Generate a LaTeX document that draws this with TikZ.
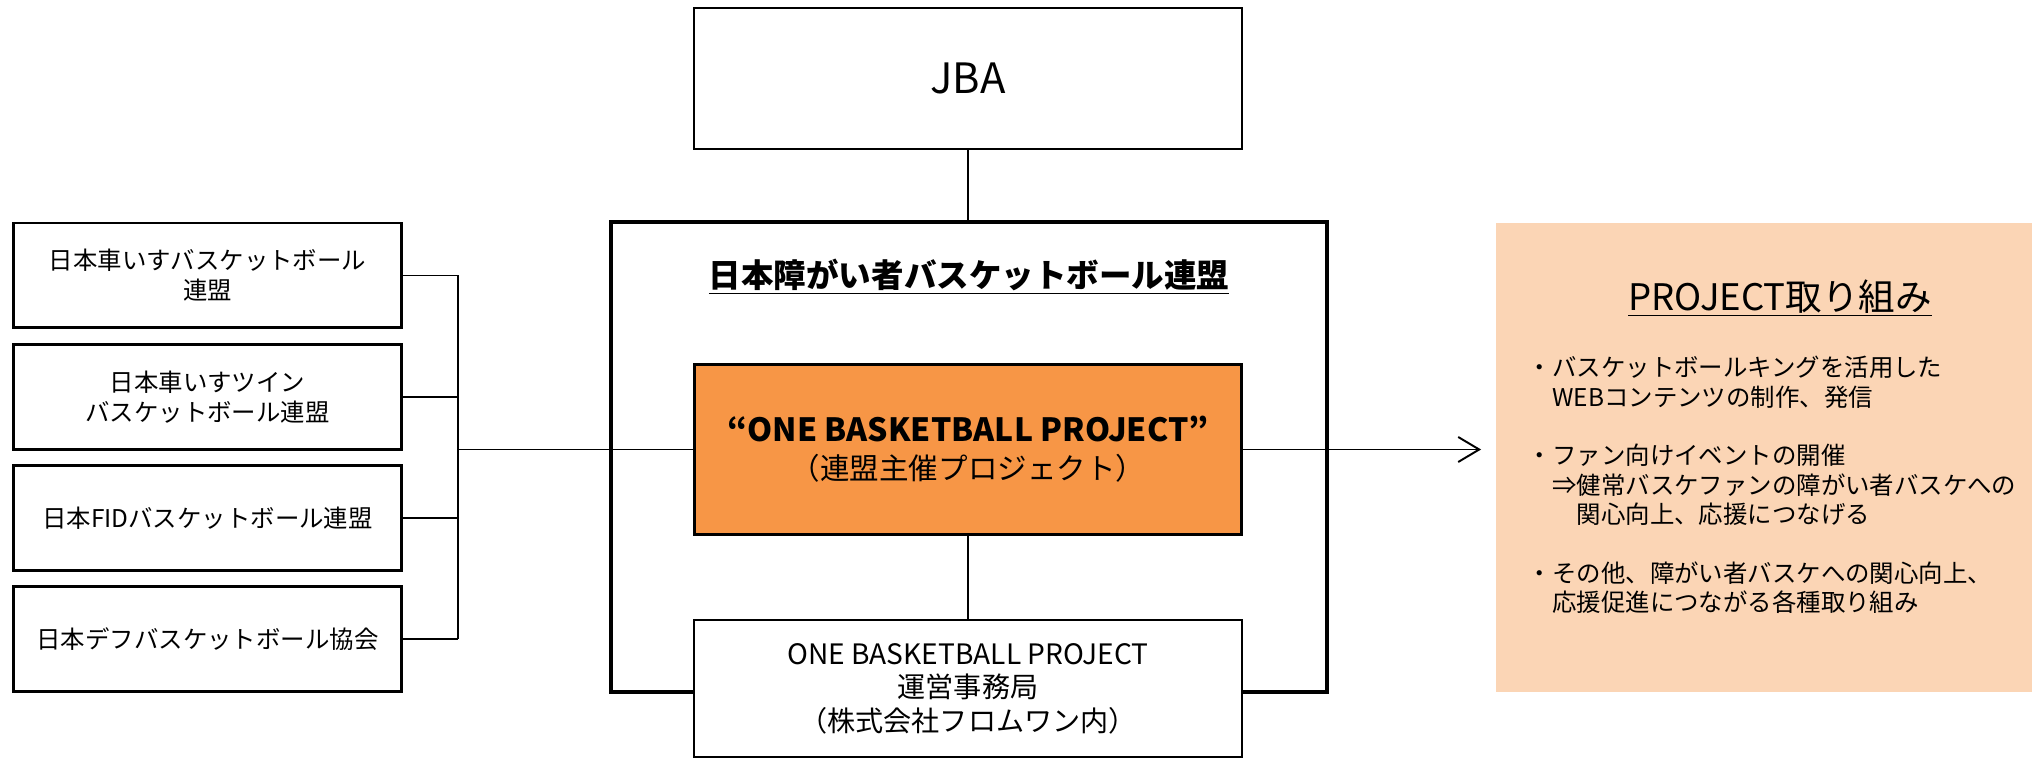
\documentclass[tikz,border=0pt]{standalone}
\usepackage{fontspec}
\setmainfont{Noto Sans CJK JP}
\usetikzlibrary{arrows.meta}
\definecolor{obporange}{HTML}{F79646}
\definecolor{actpeach}{HTML}{FBD5B5}

\begin{document}
\begin{tikzpicture}[x=0.02cm, y=-0.02cm, line width=1.1pt,
    font={\fontsize{13.9}{17}\selectfont},
    member/.style={draw, line width=1.7pt, minimum width=7.78cm, minimum height=2.1cm, align=center, inner sep=0pt},
    mainbox/.style={draw, minimum width=10.96cm, inner sep=0pt, align=center}]
    \def\pitch{121.3}
    \def\gapline{16.72pt}

    \useasboundingbox (0,0) rectangle (2042,759);

    % federation frame
    \node[draw, line width=2.6pt, minimum width=14.32cm, minimum height=9.4cm, inner sep=0pt] (fed) at (969,457) {};
    \node[font={\bfseries\fontsize{18.5}{22}\selectfont}] (fedname) at (969,277) {\underline{日本障がい者バスケットボール連盟}};

    \node[mainbox, line width=1.4pt, minimum height=2.82cm, font={\fontsize{23.8}{28}\selectfont}] (jba) at (968,78.5) {JBA};
    \node[mainbox, line width=1.7pt, minimum height=3.42cm, fill=obporange, font={\fontsize{16.8}{21.5}\selectfont}] (obp) at (968,449.5)
        {{\bfseries\fontsize{18.2}{21.5}\selectfont “ONE BASKETBALL PROJECT”}\\（連盟主催プロジェクト）};
    \node[mainbox, line width=1.4pt, minimum height=2.74cm, fill=white, font={\fontsize{16}{19}\selectfont}] (office) at (968,688.5)
        {ONE BASKETBALL PROJECT\\運営事務局\\（株式会社フロムワン内）};

    \draw (jba.south) -- (jba.south |- fed.north);
    \draw (obp.south) -- (office.north);

    % member federations
    \foreach \i/\fedtext in {1/{日本車いすバスケットボール\\連盟}, 2/{日本車いすツイン\\バスケットボール連盟},
        3/{日本FIDバスケットボール連盟}, 4/{日本デフバスケットボール協会}} {
        \node[member] (m\i) at (207.5,{275.5+(\i-1)*\pitch}) {\fedtext};
    }
    \coordinate (bus) at (458,449.5);
    \foreach \i in {1,...,4} {
        \draw (m\i.east) -- (m\i.east -| bus);
    }
    \draw (m1.east -| bus) -- (m4.east -| bus);
    \draw (bus) -- (obp.west);

    % activities
    \node[fill=actpeach, minimum width=10.72cm, minimum height=9.38cm, inner sep=0pt] (act) at (1764,457.5) {};
    \draw[-{Straight Barb[length=0.42cm,width=0.5cm]}, shorten >=0.28cm] (obp.east) -- (obp.east -| act.west);

    \node[font={\fontsize{20.8}{25}\selectfont}] (acttitle) at (1780,298) {\underline{PROJECT取り組み}};
    \node[anchor=west, align=left, inner sep=0pt, font={\fontsize{13.9}{16.72}\selectfont}] (actlist) at (1527,485)
        {・バスケットボールキングを活用した\\
         　WEBコンテンツの制作、発信\\[\gapline]
         ・ファン向けイベントの開催\\
         　⇒健常バスケファンの障がい者バスケへの\\
         　　関心向上、応援につなげる\\[\gapline]
         ・その他、障がい者バスケへの関心向上、\\
         　応援促進につながる各種取り組み};
\end{tikzpicture}
\end{document}
